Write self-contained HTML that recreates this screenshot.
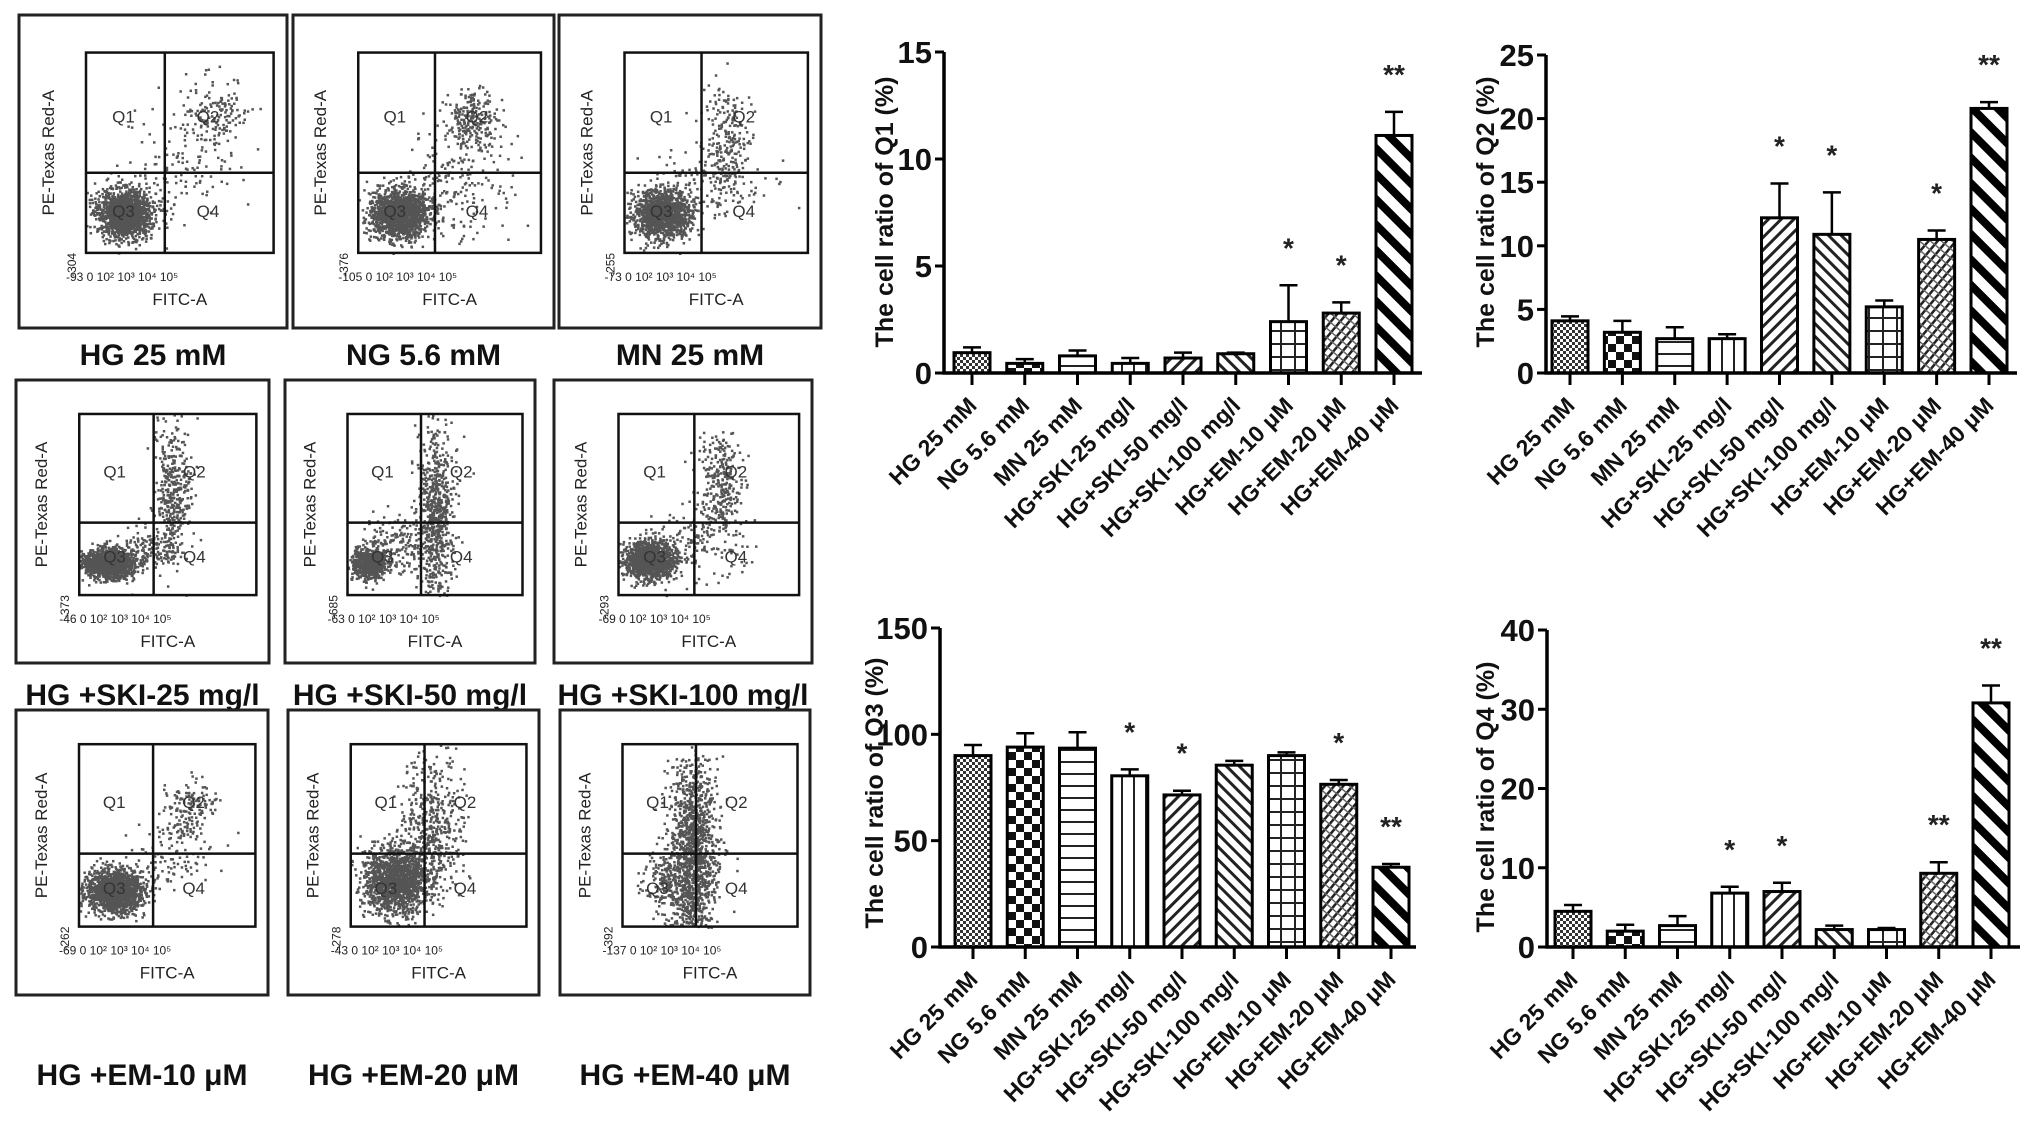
<!DOCTYPE html>
<html><head><meta charset="utf-8">
<style>
html,body{margin:0;padding:0;background:#fff;}
svg{display:block;font-family:"Liberation Sans",Arial,sans-serif;}
</style></head>
<body>
<svg id="fig" width="2031" height="1141" viewBox="0 0 2031 1141" xmlns="http://www.w3.org/2000/svg">
<defs>
<pattern id="p0" width="6" height="6" patternUnits="userSpaceOnUse"><rect width="6" height="6" fill="#fff"/><rect width="3" height="3" fill="#333"/><rect x="3" y="3" width="3" height="3" fill="#333"/></pattern>
<pattern id="p1" width="16" height="16" patternUnits="userSpaceOnUse"><rect width="16" height="16" fill="#fff"/><rect width="8" height="8" fill="#111"/><rect x="8" y="8" width="8" height="8" fill="#111"/></pattern>
<pattern id="p2" width="10" height="12" patternUnits="userSpaceOnUse"><rect width="10" height="12" fill="#fff"/><rect y="5" width="10" height="2" fill="#222"/></pattern>
<pattern id="p3" width="12" height="10" patternUnits="userSpaceOnUse"><rect width="12" height="10" fill="#fff"/><rect x="5" width="2" height="10" fill="#222"/></pattern>
<pattern id="p4" width="9" height="9" patternUnits="userSpaceOnUse" patternTransform="rotate(45)"><rect width="9" height="9" fill="#fff"/><rect width="3" height="9" fill="#222"/></pattern>
<pattern id="p5" width="9" height="9" patternUnits="userSpaceOnUse" patternTransform="rotate(-45)"><rect width="9" height="9" fill="#fff"/><rect width="3" height="9" fill="#222"/></pattern>
<pattern id="p6" width="14" height="13" patternUnits="userSpaceOnUse"><rect width="14" height="13" fill="#fff"/><rect y="5" width="14" height="2" fill="#222"/><rect x="6" width="2" height="13" fill="#222"/></pattern>
<pattern id="p7" width="7" height="7" patternUnits="userSpaceOnUse" patternTransform="rotate(40)"><rect width="7" height="7" fill="#fff"/><rect width="2.5" height="7" fill="#222"/><rect y="0" width="7" height="1.5" fill="#666"/></pattern>
<pattern id="p8" width="18" height="18" patternUnits="userSpaceOnUse" patternTransform="rotate(-45)"><rect width="18" height="18" fill="#fff"/><rect width="8" height="18" fill="#000"/></pattern>
</defs>
<g id="flow"></g>
<g id="charts"></g>
</svg>
<script>
// ---------- chart data ----------
const categories = ["HG 25 mM","NG 5.6 mM","MN 25 mM","HG+SKI-25 mg/l","HG+SKI-50 mg/l","HG+SKI-100 mg/l","HG+EM-10 \u03bcM","HG+EM-20 \u03bcM","HG+EM-40 \u03bcM"];
const q1Values = [0.95,0.45,0.8,0.45,0.7,0.9,2.4,2.8,11.1];
const q1Errors = [0.25,0.2,0.25,0.25,0.25,0.05,1.7,0.5,1.1];
const q1Stars  = ["","","","","","","*","*","**"];
const q1Ticks  = [0,5,10,15];
const q2Values = [4.1,3.2,2.7,2.7,12.2,10.9,5.2,10.5,20.8];
const q2Errors = [0.35,0.9,0.9,0.35,2.7,3.3,0.5,0.7,0.5];
const q2Stars  = ["","","","","*","*","","*","**"];
const q2Ticks  = [0,5,10,15,20,25];
const q3Values = [90,94,93.5,80.5,71.5,85.5,90,76.5,37.5];
const q3Errors = [5,6.5,7.5,3,2,2,1.5,2,1.5];
const q3Stars  = ["","","","*","*","","","*","**"];
const q3Ticks  = [0,50,100,150];
const q4Values = [4.5,2.0,2.7,6.8,7.0,2.2,2.2,9.3,30.8];
const q4Errors = [0.8,0.8,1.2,0.8,1.1,0.5,0.2,1.4,2.2];
const q4Stars  = ["","","","*","*","","","**","**"];
const q4Ticks  = [0,10,20,30,40];

const NS="http://www.w3.org/2000/svg";
function mk(parent,tag,attrs,text){const e=document.createElementNS(NS,tag);for(const k in attrs)e.setAttribute(k,attrs[k]);if(text!==undefined)e.textContent=text;parent.appendChild(e);return e;}

const fills=["p0","p1","p2","p3","p4","p5","p6","p7","p8"];

function drawChart(name,values,errors,stars,ticks,L){
  const root=document.getElementById('charts');
  const g=mk(root,'g',{});
  
  
  const maxV=ticks[ticks.length-1];
  const y=v=>L.y0-(v/maxV)*(L.y0-L.yTop);
  const x=i=>L.c0+i*(L.c1-L.c0)/(categories.length-1);
  const bw=L.bw;
  values.forEach((v,i)=>{
    const bar=mk(g,'rect',{x:x(i)-bw/2,y:y(v),width:bw,height:L.y0-y(v),fill:'url(#'+fills[i]+')',stroke:'#000','stroke-width':3});
    
    
    const eb=mk(g,'path',{d:`M${x(i)} ${y(v)} V${y(v+errors[i])} M${x(i)-bw*0.25} ${y(v+errors[i])} H${x(i)+bw*0.25}`,stroke:'#000','stroke-width':2.5,fill:'none'});
    
    
    if(stars[i]){
      const s=mk(g,'text',{x:x(i),y:y(v+errors[i])-L.starGap,'text-anchor':'middle','font-size':28,'font-weight':'bold',fill:'#222'},stars[i]);
      
      
    }
    const tk=mk(g,'line',{x1:x(i),x2:x(i),y1:L.y0,y2:L.y0+12,stroke:'#000','stroke-width':3});
    
    
    const lb=mk(g,'text',{x:x(i)+6,y:L.y0+34,'text-anchor':'end','font-size':23,'font-weight':'bold',fill:'#111',transform:`rotate(-45 ${x(i)+6} ${L.y0+34})`},categories[i]);
    
    
  });
  const ax=mk(g,'path',{d:`M${L.ax} ${L.yTop} V${L.y0} H${L.xEnd}`,stroke:'#000','stroke-width':3.5,fill:'none'});
  
  
  ticks.forEach(t=>{
    const tl=mk(g,'line',{x1:L.ax-9,x2:L.ax,y1:y(t),y2:y(t),stroke:'#000','stroke-width':3});
    
    
    const tx=mk(g,'text',{x:L.ax-12,y:y(t)+11,'text-anchor':'end','font-size':31,'font-weight':'bold',fill:'#111'},String(t));
    
    
  });
  const tt=mk(g,'text',{x:L.tx,y:L.ty,'text-anchor':'middle','font-size':25,'font-weight':'bold',fill:'#111',transform:`rotate(-90 ${L.tx} ${L.ty})`},`The cell ratio of ${name.toUpperCase()} (%)`);
  
  
}
drawChart('q1',q1Values,q1Errors,q1Stars,q1Ticks,{ax:944,y0:373,yTop:52,xEnd:1422,c0:972,c1:1394,bw:36,tx:893,ty:212,starGap:28});
drawChart('q2',q2Values,q2Errors,q2Stars,q2Ticks,{ax:1546,y0:373,yTop:55,xEnd:2017,c0:1570,c1:1989,bw:36,tx:1494,ty:212,starGap:28});
drawChart('q3',q3Values,q3Errors,q3Stars,q3Ticks,{ax:940,y0:947,yTop:628,xEnd:1416,c0:973,c1:1391,bw:36,tx:883,ty:793,starGap:28});
drawChart('q4',q4Values,q4Errors,q4Stars,q4Ticks,{ax:1547,y0:947,yTop:630,xEnd:2020,c0:1573,c1:1991,bw:36,tx:1494,ty:797,starGap:28});

// ---------- flow cytometry panels ----------
const panelLabels=["HG 25 mM","NG 5.6 mM","MN 25 mM","HG +SKI-25 mg/l","HG +SKI-50 mg/l","HG +SKI-100 mg/l","HG +EM-10 \u03bcM","HG +EM-20 \u03bcM","HG +EM-40 \u03bcM"];
const panelMinY=["-304","-376","-255","-373","-685","-293","-262","-278","-392"];
const panelMinX=["-93","-105","-73","-46","-63","-69","-69","-43","-137"];
const panelClusters=[
 [[0.2,0.8,0.07,0.06,1600],[0.68,0.32,0.09,0.1,160],[0.5,0.6,0.15,0.15,120]],
 [[0.22,0.8,0.08,0.06,1600],[0.62,0.33,0.07,0.07,220],[0.55,0.65,0.15,0.15,200]],
 [[0.2,0.8,0.08,0.06,1300],[0.55,0.42,0.07,0.13,200],[0.45,0.65,0.15,0.1,150]],
 [[0.16,0.82,0.07,0.04,1400],[0.52,0.45,0.05,0.2,400],[0.35,0.75,0.1,0.06,150]],
 [[0.12,0.82,0.05,0.04,700],[0.5,0.55,0.05,0.25,700],[0.3,0.72,0.12,0.08,200]],
 [[0.17,0.8,0.07,0.05,1400],[0.55,0.4,0.06,0.15,300],[0.45,0.7,0.12,0.1,150]],
 [[0.2,0.8,0.08,0.06,1500],[0.62,0.35,0.07,0.08,150],[0.5,0.6,0.12,0.12,100]],
 [[0.25,0.74,0.09,0.09,1500],[0.45,0.45,0.09,0.2,500]],
 [[0.4,0.6,0.07,0.26,1400],[0.25,0.75,0.07,0.1,200]]
];
const panelBoxes=[[19,15,268,313],[293,15,261,313],[559,15,262,313],[16,380,253,283],[285,380,250,283],[554,380,258,283],[16,710,252,285],[288,710,251,285],[560,710,250,285]];
const labelY=[365,365,365,705,705,705,1085,1085,1085];

let seed=12345;
function rnd(){seed=(seed*1103515245+12345)%2147483648;return seed/2147483648;}
function gauss(){let u=rnd()||1e-6,v=rnd();return Math.sqrt(-2*Math.log(u))*Math.cos(2*Math.PI*v);}

const flow=document.getElementById('flow');
panelBoxes.forEach((b,k)=>{
  const [bx,by,bw,bh]=b;
  const g=mk(flow,'g',{});
  
  
  const box=mk(g,'rect',{x:bx,y:by,width:bw,height:bh,fill:'#fff',stroke:'#222','stroke-width':3});
  
  
  const pl=bx+bw*0.25, pt=by+bh*0.12, pw=bw*0.7, ph=bh*0.64;
  const qx=pl+pw*0.42, qy=pt+ph*0.6;
  const dots=mk(g,'g',{fill:'#555'});
  
  
  panelClusters[k].forEach(c=>{
    for(let n=0;n<c[4];n++){
      const px=pl+pw*(c[0]+c[2]*gauss()), py=pt+ph*(c[1]+c[3]*gauss());
      if(px<pl||px>pl+pw||py<pt||py>pt+ph)continue;
      mk(dots,'rect',{x:px.toFixed(1),y:py.toFixed(1),width:2.5,height:2.5});
    }
  });
  const fr=mk(g,'rect',{x:pl,y:pt,width:pw,height:ph,fill:'none',stroke:'#111','stroke-width':2.5});
  
  
  const ql=mk(g,'path',{d:`M${qx} ${pt} V${pt+ph} M${pl} ${qy} H${pl+pw}`,stroke:'#111','stroke-width':2.5});
  
  
  [["Q1",pl+pw*0.2,pt+ph*0.35],["Q2",pl+pw*0.65,pt+ph*0.35],["Q3",pl+pw*0.2,pt+ph*0.82],["Q4",pl+pw*0.65,pt+ph*0.82]].forEach(q=>{
    const t=mk(g,'text',{x:q[1],y:q[2],'font-size':17,fill:'#333','text-anchor':'middle'},q[0]);
    
    
  });
  const xa=mk(g,'text',{x:pl+pw*0.5,y:pt+ph+52,'font-size':17,fill:'#222','text-anchor':'middle'},'FITC-A');
  
  
  const xt=mk(g,'text',{x:pl-20,y:pt+ph+28,'font-size':12,fill:'#222'},panelMinX[k]+'  0 10\u00b2   10\u00b3   10\u2074   10\u2075');
  
  
  const yx=pl-32, yy=pt+ph*0.5;
  const ya=mk(g,'text',{x:yx,y:yy,'font-size':17,fill:'#222','text-anchor':'middle',transform:`rotate(-90 ${yx} ${yy})`},'PE-Texas Red-A');
  
  
  const ym=mk(g,'text',{x:pl-10,y:pt+ph,'font-size':12,fill:'#222','text-anchor':'end',transform:`rotate(-90 ${pl-10} ${pt+ph})`},panelMinY[k]);
  
  
  const lab=mk(flow,'text',{x:bx+bw/2,y:labelY[k],'font-size':30,'font-weight':'bold',fill:'#111','text-anchor':'middle'},panelLabels[k]);
  
  
});
</script>
</body></html>
